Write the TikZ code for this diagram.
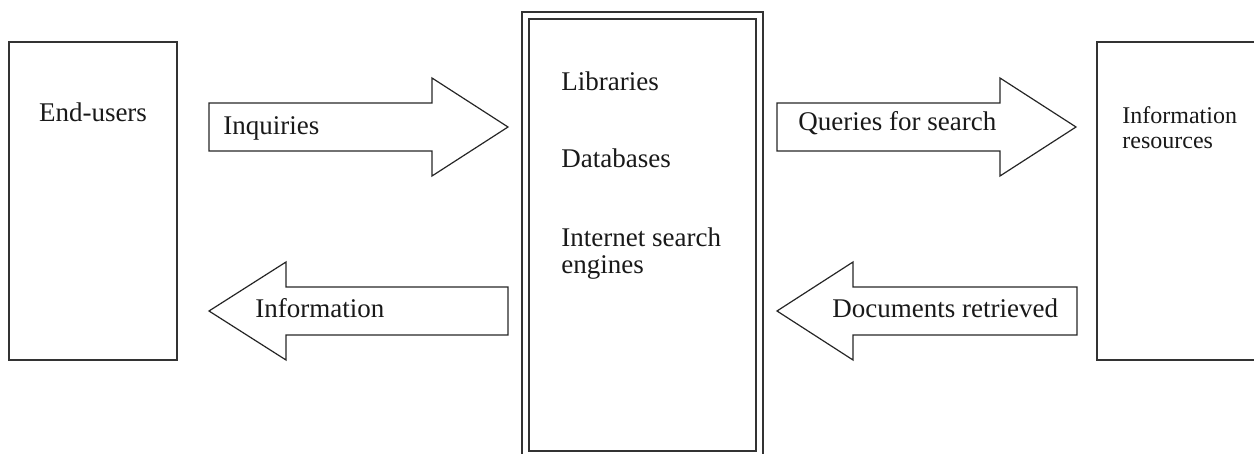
\documentclass[tikz,border=0pt]{standalone}
\usepackage{fontspec}
\setmainfont{Liberation Serif}
\begin{document}
\begin{tikzpicture}[x=0.5pt,y=-0.5pt,
  box/.style={draw=black!80,line width=0.8pt,inner sep=0pt},
  blockarrow/.style={draw=black!85,line width=0.6pt,line join=miter},
  lbl/.style={anchor=base west,inner sep=0pt,font=\fontsize{13.5}{16}\selectfont,text=black!90},
  smalllbl/.style={lbl,font=\fontsize{12}{14}\selectfont}]
\useasboundingbox (0,0) rectangle (1254,454);
\clip (0,0) rectangle (1254,454);
% boxes
\node[box,minimum width=84pt,minimum height=159pt] (users) at (93,201) {};
\node[box,minimum width=120.35pt,minimum height=229pt] (midouter) at (642.35,241) {};
\node[box,minimum width=113.35pt,minimum height=216pt] (midinner) at (642.35,235) {};
\node[box,minimum width=90pt,minimum height=159pt] (resources) at (1187,201) {};
% block arrows
\draw[blockarrow] (209,103)--(432,103)--(432,78)--(508,127)--(432,176)--(432,151)--(209,151)--cycle;
\draw[blockarrow] (777,103)--(1000,103)--(1000,78)--(1076,127)--(1000,176)--(1000,151)--(777,151)--cycle;
\draw[blockarrow] (508,287)--(286,287)--(286,262)--(209,311)--(286,360)--(286,335)--(508,335)--cycle;
\draw[blockarrow] (1077,287)--(853,287)--(853,262)--(777,311)--(853,360)--(853,335)--(1077,335)--cycle;
% labels
\node[lbl,anchor=base] (tusers) at (93,122) {End-users};
\node[lbl] (tinq) at (223,135) {Inquiries};
\node[lbl] (tlib) at (561,91) {Libraries};
\node[lbl] (tdb) at (561,168) {Databases};
\node[lbl] (tis1) at (561,247) {Internet search};
\node[lbl] (tis2) at (561,274) {engines};
\node[lbl] (tq) at (798,131) {Queries for search};
\node[smalllbl] (tir1) at (1122,124) {Information};
\node[smalllbl] (tir2) at (1122,149) {resources};
\node[lbl] (tinfo) at (255,318) {Information};
\node[lbl] (tdoc) at (832,318) {Documents retrieved};
\end{tikzpicture}
\end{document}
